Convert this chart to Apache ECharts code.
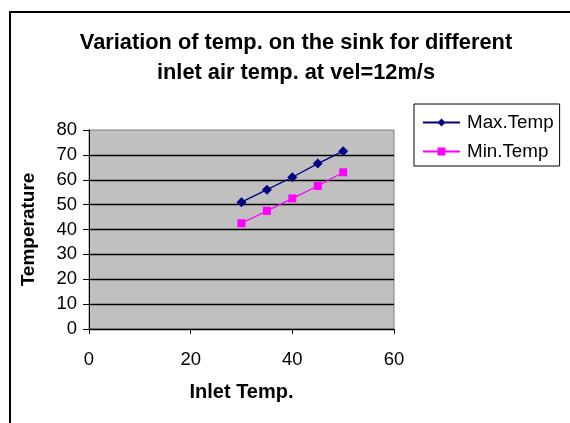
<!DOCTYPE html>
<html><head><meta charset="utf-8">
<script src="https://cdn.jsdelivr.net/npm/echarts@6/dist/echarts.min.js"></script>
<style>html,body{margin:0;padding:0;background:#fff}#c{width:570px;height:423px}</style>
</head><body><div id="c"></div>
<script>
const inletTemp = [30, 35, 40, 45, 50];
const maxTemp = [51, 56, 61, 66.5, 71.5];
const minTemp = [42.5, 47.5, 52.5, 57.5, 63];
const seriesNames = ['Max.Temp', 'Min.Temp'];
const titleText = 'Variation of temp. on the sink for different\ninlet air temp. at vel=12m/s';

const chart = echarts.init(document.getElementById('c'), null, {renderer: 'canvas'});
const font = 'Liberation Sans, Arial, sans-serif';
chart.setOption({
  animation: false,
  backgroundColor: '#fff',
  textStyle: {fontFamily: font},
  title: {
    text: titleText, left: 296, top: 28, textAlign: 'center', padding: 0,
    textStyle: {fontFamily: font, fontSize: 21.8, fontWeight: 'bold', color: '#000', lineHeight: 30}
  },
  graphic: [
    {type: 'polyline', shape: {points: [[10, 440], [10, 12], [580, 12]]}, style: {stroke: '#000', lineWidth: 2, fill: null}, silent: true}
  ],
  legend: {
    orient: 'vertical', left: 414, top: 104,
    data: seriesNames,
    itemWidth: 37, itemHeight: 10, itemGap: 10,
    padding: [9, 6, 5, 8],
    borderColor: '#000', borderWidth: 1,
    textStyle: {fontFamily: font, fontSize: 18.8, color: '#000', padding: [0, 0, 0, 2]}
  },
  grid: {left: 89, top: 130, width: 305, height: 199, show: true, backgroundColor: '#c0c0c0', borderColor: '#808080', borderWidth: 1},
  xAxis: {
    type: 'value', min: 0, max: 60, interval: 20,
    name: 'Inlet Temp.', nameLocation: 'middle', nameGap: 53,
    nameTextStyle: {fontFamily: font, fontSize: 20, fontWeight: 'bold', color: '#000'},
    axisLine: {show: true, lineStyle: {color: '#000', width: 1}},
    axisTick: {show: true, length: 5, lineStyle: {color: '#000'}},
    axisLabel: {fontFamily: font, fontSize: 18.5, color: '#000', margin: 21},
    splitLine: {show: false}
  },
  yAxis: {
    type: 'value', min: 0, max: 80, interval: 10,
    name: 'Temperature', nameLocation: 'middle', nameGap: 51, nameRotate: 90,
    nameTextStyle: {fontFamily: font, fontSize: 19, fontWeight: 'bold', color: '#000'},
    axisLine: {show: true, lineStyle: {color: '#000', width: 1}},
    axisTick: {show: true, length: 6, lineStyle: {color: '#000'}},
    axisLabel: {fontFamily: font, fontSize: 18.5, color: '#000', margin: 12},
    splitLine: {show: true, showMaxLine: false, lineStyle: {color: '#000', width: 1.3}}
  },
  series: [
    {name: seriesNames[0], type: 'line', data: inletTemp.map((x, i) => [x, maxTemp[i]]),
     symbol: 'diamond', symbolSize: 10, lineStyle: {color: '#000080', width: 1.3},
     itemStyle: {color: '#000080'}},
    {name: seriesNames[1], type: 'line', data: inletTemp.map((x, i) => [x, minTemp[i]]),
     symbol: 'rect', symbolSize: 8, lineStyle: {color: '#ff00ff', width: 1.3},
     itemStyle: {color: '#ff00ff'}}
  ]
});
</script></body></html>
